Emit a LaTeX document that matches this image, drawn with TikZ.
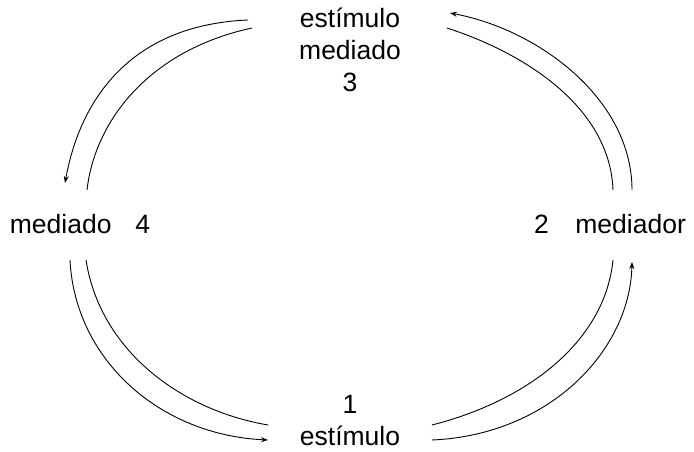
\documentclass[tikz,border=0pt]{standalone}
\usepackage{fontspec}
\setmainfont{Liberation Sans}
\usetikzlibrary{arrows.meta}

\begin{document}
\begin{tikzpicture}[x=1pt,y=1pt,line width=0.9pt,>={Stealth[length=7pt,width=5pt]},
lbl/.style={font=\fontsize{26.5}{32}\selectfont,align=center,inner sep=0pt}]
\useasboundingbox (0,0) rectangle (694,452);
\node[lbl] (est3) at (350,402) {estímulo\\mediado\\3};
\node[lbl] (med4) at (80,228) {mediado\hspace{0.9em}4};
\node[lbl] (med2) at (610,228) {2\hspace{1em}mediador};
\node[lbl] (est1) at (350,31) {1\\estímulo};
% ends of the arcs
\coordinate (a1) at (248,432); \coordinate (a2) at (65,269);
\coordinate (b1) at (252,424); \coordinate (b2) at (87,262);
\coordinate (c1) at (632,262); \coordinate (c2) at (450,439);
\coordinate (d1) at (613,262); \coordinate (d2) at (447,424);
\coordinate (e1) at (70,192);  \coordinate (e2) at (268,12);
\coordinate (f1) at (86,192);  \coordinate (f2) at (268,27);
\coordinate (g1) at (432,27);  \coordinate (g2) at (613,192);
\coordinate (h1) at (432,12);  \coordinate (h2) at (632,190);
\draw[->](a1)..controls(130,427)and(80,352)..(a2);
\draw(b1)..controls(150,402)and(95,332)..(b2);
\draw[->](c1)..controls(632,352)and(540,422)..(c2);
\draw(d1)..controls(610,342)and(530,397)..(d2);
\draw[->](e1)..controls(75,92)and(160,17)..(e2);
\draw(f1)..controls(100,102)and(180,42)..(f2);
\draw(g1)..controls(530,52)and(605,112)..(g2);
\draw[->](h1)..controls(550,17)and(630,102)..(h2);
\end{tikzpicture}
\end{document}
